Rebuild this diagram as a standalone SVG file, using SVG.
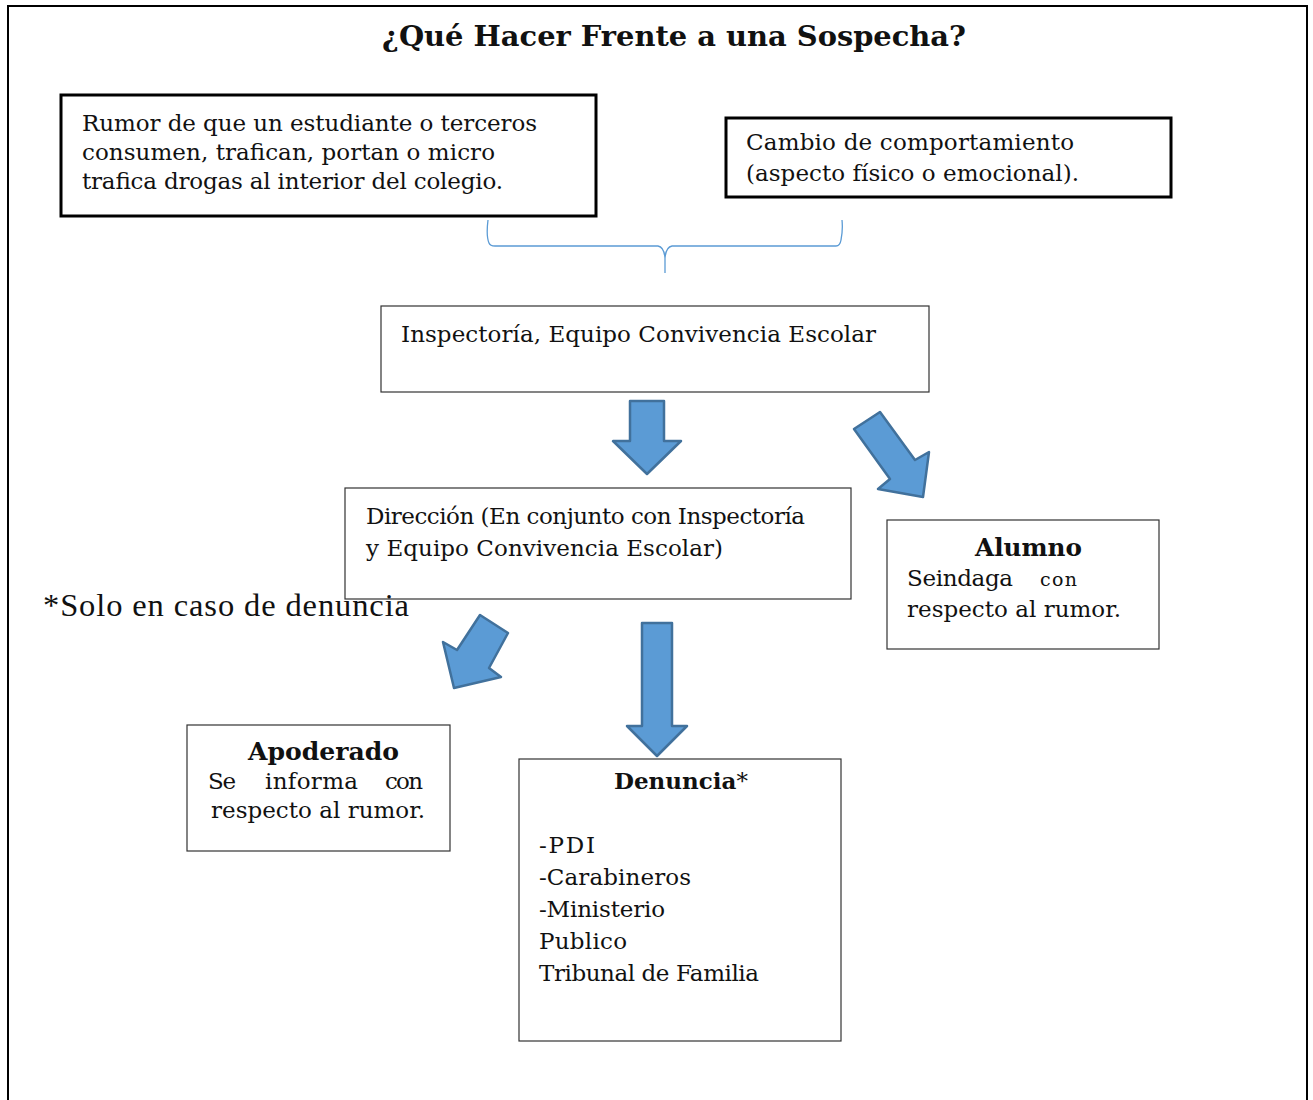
<svg xmlns="http://www.w3.org/2000/svg" width="1313" height="1100" viewBox="0 0 1313 1100">
<style>
  .t{font-family:"DejaVu Serif","Liberation Serif",serif;font-size:23px;fill:#111}
  .b{font-weight:bold}
  .h{font-size:24.5px}
  .thick{fill:#fff;stroke:#000;stroke-width:3}
  .thin{fill:#fff;stroke:#333;stroke-width:1.2}
  .arr{fill:#5B9BD5;stroke:#41719C;stroke-width:2.5;stroke-linejoin:round}
</style>
<rect width="1313" height="1100" fill="#fff"/>
<path d="M8,1100 V6 H1307 V1100" fill="none" stroke="#000" stroke-width="2"/>
<text class="t b" x="382" y="46" style="font-size:28px" textLength="584" lengthAdjust="spacingAndGlyphs">¿Qué Hacer Frente a una Sospecha?</text>

<g id="rumor">
  <rect class="thick" x="61" y="95" width="535" height="121"/>
  <text class="t" x="82" y="131" textLength="455">Rumor de que un estudiante o terceros</text>
  <text class="t" x="82" y="160" textLength="413">consumen, trafican, portan o micro</text>
  <text class="t" x="82" y="189" textLength="421">trafica drogas al interior del colegio.</text>
</g>
<g id="cambio">
  <rect class="thick" x="726" y="118" width="445" height="79"/>
  <text class="t" x="746" y="150" textLength="328">Cambio de comportamiento</text>
  <text class="t" x="746" y="181" textLength="333">(aspecto físico o emocional).</text>
</g>
<g id="inspectoria">
  <rect class="thin" x="381" y="306" width="548" height="86"/>
  <text class="t" x="401" y="342" textLength="475">Inspectoría, Equipo Convivencia Escolar</text>
</g>
<g id="direccion">
  <rect class="thin" x="345" y="488" width="506" height="111"/>
  <text class="t" x="366" y="524" textLength="439">Dirección (En conjunto con Inspectoría</text>
  <text class="t" x="366" y="556" textLength="357">y Equipo Convivencia Escolar)</text>
</g>
<text x="43" y="616" style="font-family:'Liberation Serif',serif;font-size:32.5px;fill:#111" textLength="366">*Solo en caso de denuncia</text>
<g id="alumno">
  <rect class="thin" x="887" y="520" width="272" height="129"/>
  <text class="t b h" x="975" y="556" textLength="107" lengthAdjust="spacingAndGlyphs">Alumno</text>
  <text class="t" x="907" y="586" textLength="106">Seindaga</text>
  <text class="t" x="1040" y="586" style="font-size:19px" textLength="37">con</text>
  <text class="t" x="907" y="617" textLength="214">respecto al rumor.</text>
</g>
<g id="apoderado">
  <rect class="thin" x="187" y="725" width="263" height="126"/>
  <text class="t b h" x="248" y="760" textLength="151" lengthAdjust="spacingAndGlyphs">Apoderado</text>
  <text class="t" x="208" y="789" textLength="28">Se</text>
  <text class="t" x="265" y="789" textLength="93">informa</text>
  <text class="t" x="385" y="789" textLength="38">con</text>
  <text class="t" x="211" y="818" textLength="214">respecto al rumor.</text>
</g>
<g id="denuncia">
  <rect class="thin" x="519" y="759" width="322" height="282"/>
  <text class="t" x="614" y="789"><tspan class="b">Denuncia</tspan>*</text>
  <text class="t" x="539" y="853" textLength="56">-PDI</text>
  <text class="t" x="539" y="885" textLength="152">-Carabineros</text>
  <text class="t" x="539" y="917" textLength="126">-Ministerio</text>
  <text class="t" x="539" y="949" textLength="88">Publico</text>
  <text class="t" x="539" y="981" textLength="220">Tribunal de Familia</text>
</g>

<g id="connectors">
  <path d="M488,220 Q486,236 489,243 Q490,246 495,246 H658 Q664,247 665,258 V273 M665,258 Q666,247 672,246 H836 Q840,246 841,240 Q843,230 842,220" fill="none" stroke="#5B9BD5" stroke-width="1.3"/>
  <polygon class="arr" points="630,401 664,401 664,441 681,441 647,474 613,441 630,441"/>
  <polygon class="arr" points="880,412 915,460 929,452 923,497 878,489 890,479 854,429"/>
  <polygon class="arr" points="480,615 508,633 489,668 501,677 454,688 443,642 457,650"/>
  <polygon class="arr" points="642,623 672,623 672,726 687,726 657,756 627,726 642,726"/>
</g>
</svg>
